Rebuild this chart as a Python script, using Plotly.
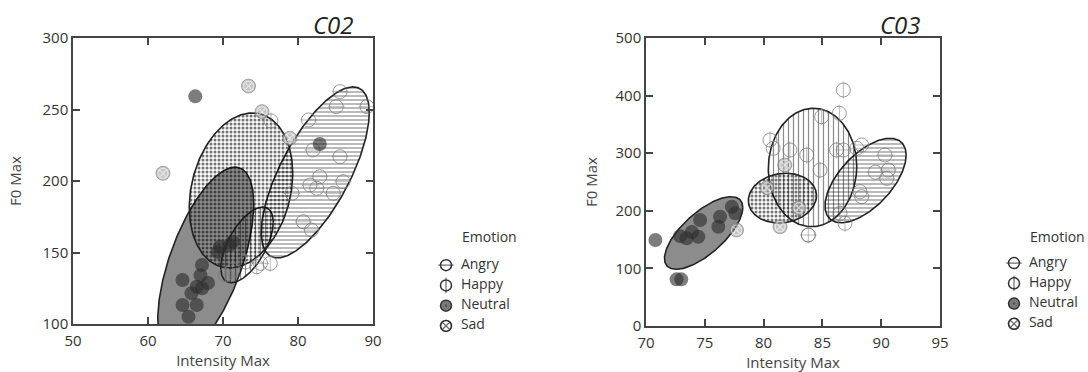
import numpy as np
import plotly.graph_objects as go

emotions = ["Angry", "Happy", "Neutral", "Sad"]

# ---------------- C02 ----------------
c02_angry_x = [85.6, 85.1, 89.2, 81.4, 82.0, 85.6, 82.9, 81.6, 82.5, 84.7, 86.0, 80.7, 81.8, 79.2, 75.0]
c02_angry_y = [262.5, 252, 252, 242.7, 221.7, 217, 203, 197.2, 194.9, 191.4, 199.5, 171.5, 165.7, 191.4, 142.4]
c02_happy_x = [71.3, 74.5, 76.3, 70.3, 73.0, 76.4]
c02_happy_y = [137.8, 140.1, 142.4, 134.3, 143.4, 242.0]
c02_neutral_x = [66.3, 82.9, 64.6, 67.2, 66.5, 67.2, 65.8, 64.6, 66.5, 65.4, 69.6, 70.9, 69.3, 71.3, 68.0, 67.0]
c02_neutral_y = [259.2, 225.9, 130.8, 141.3, 126.1, 125.0, 121.5, 113.3, 113.3, 105.1, 154.0, 155.2, 150.3, 157.6, 128.7, 134.0]
c02_sad_x = [62.0, 73.4, 75.2, 78.9]
c02_sad_y = [205.4, 266.4, 248.5, 229.9]

# ellipse parameters (order = emotions): centre, half-extent, correlation
c02_ell_cx = [82.3, 73.2, 67.7, 72.4]
c02_ell_cy = [206.0, 155.3, 143.4, 193.4]
c02_ell_sx = [7.2, 3.5, 6.4, 6.9]
c02_ell_sy = [59.8, 26.5, 66.3, 54.2]
c02_ell_rho = [0.70, 0.60, 0.61, 0.22]

# ---------------- C03 ----------------
c03_angry_x = [87.92, 88.34, 90.32, 90.6, 90.47, 88.34, 88.2, 83.8, 86.78, 89.5]
c03_angry_y = [308.5, 314.2, 296.9, 270.8, 256.4, 224.5, 233.2, 158, 305.6, 267]
c03_happy_x = [80.54, 80.82, 82.24, 83.67, 84.8, 86.2, 86.78, 86.44, 84.94, 86.5, 86.92, 83.8]
c03_happy_y = [322.9, 308.5, 305.6, 296.9, 270.8, 305.6, 409.7, 369.3, 363.4, 195.7, 178.3, 158]
c03_neutral_x = [70.8, 73.0, 72.6, 73.46, 74.45, 74.6, 76.3, 76.15, 77.3, 77.6, 72.9, 73.9]
c03_neutral_y = [149.3, 81, 81, 152.3, 155, 184, 189.8, 172.4, 207.1, 195.7, 156, 163]
c03_sad_x = [81.8, 81.4, 77.7, 80.3, 83.0]
c03_sad_y = [279.5, 172.4, 166.7, 240, 205]

c03_ell_cx = [88.67, 84.16, 74.9, 81.6]
c03_ell_cy = [252.6, 275.2, 161.5, 222.0]
c03_ell_sx = [3.45, 3.76, 3.33, 2.9]
c03_ell_sy = [73.3, 102.8, 63.0, 43.2]
c03_ell_rho = [0.60, 0.02, 0.70, 0.10]

c02_ticks_x = [50, 60, 70, 80, 90]
c02_ticks_y = [100, 150, 200, 250, 300]
c03_ticks_x = [70, 75, 80, 85, 90, 95]
c03_ticks_y = [0, 100, 200, 300, 400, 500]

FONT = "Open Sans"
INK = "#222222"

ell_style = {
    "Angry": dict(fillpattern=dict(shape="-", size=4, solidity=0.3, fgcolor="#000000", fgopacity=0.45,
                                   bgcolor="rgba(0,0,0,0)"), fillcolor="rgba(0,0,0,0)"),
    "Happy": dict(fillpattern=dict(shape="|", size=5, solidity=0.25, fgcolor="#000000", fgopacity=0.45,
                                   bgcolor="rgba(0,0,0,0)"), fillcolor="rgba(0,0,0,0)"),
    "Neutral": dict(fillcolor="rgba(0,0,0,0.45)"),
    "Sad": dict(fillpattern=dict(shape=".", size=4, solidity=0.45, fgcolor="#000000", fgopacity=0.55,
                                 bgcolor="rgba(0,0,0,0)"), fillcolor="rgba(0,0,0,0)"),
}


def ellipse(cx, cy, sx, sy, rho):
    t = np.linspace(0, 2 * np.pi, 241)
    x = cx + sx * np.cos(t)
    y = cy + sy * (rho * np.cos(t) + np.sqrt(1 - rho ** 2) * np.sin(t))
    return x, y


fig = go.Figure()


def add_panel(xa, ya, pts, ell):
    cxs, cys, sxs, sys_, rhos = ell
    draw_order = ["Neutral", "Angry", "Happy", "Sad"]
    for emo in draw_order:
        i = emotions.index(emo)
        ex, ey = ellipse(cxs[i], cys[i], sxs[i], sys_[i], rhos[i])
        fig.add_trace(go.Scatter(x=ex, y=ey, mode="lines", fill="toself",
                                 line=dict(color=INK, width=1.6), xaxis=xa, yaxis=ya,
                                 showlegend=False, hoverinfo="skip", **ell_style[emo]))
    ax, ay = pts["Angry"]
    hx, hy = pts["Happy"]
    nx, ny = pts["Neutral"]
    sx_, sy_ = pts["Sad"]
    # Sad markers
    fig.add_trace(go.Scatter(x=sx_, y=sy_, mode="markers", xaxis=xa, yaxis=ya, showlegend=False,
                             marker=dict(symbol="circle", size=14, color="rgba(150,150,150,0.55)",
                                         line=dict(color="rgba(120,120,120,0.6)", width=1))))
    fig.add_trace(go.Scatter(x=sx_, y=sy_, mode="markers", xaxis=xa, yaxis=ya, showlegend=False,
                             marker=dict(symbol="circle-x-open", size=10, color="rgba(255,255,255,0.55)",
                                         line=dict(color="rgba(255,255,255,0.55)", width=1.2))))
    # Angry markers
    fig.add_trace(go.Scatter(x=ax, y=ay, mode="markers", xaxis=xa, yaxis=ya, showlegend=False,
                             marker=dict(symbol="circle-open", size=14, color="rgba(120,120,120,0.75)",
                                         line=dict(width=1))))
    fig.add_trace(go.Scatter(x=ax, y=ay, mode="markers", xaxis=xa, yaxis=ya, showlegend=False,
                             marker=dict(symbol="line-ew-open", size=12, color="rgba(140,140,140,0.6)",
                                         line=dict(width=1))))
    # Happy markers
    fig.add_trace(go.Scatter(x=hx, y=hy, mode="markers", xaxis=xa, yaxis=ya, showlegend=False,
                             marker=dict(symbol="circle-open", size=14, color="rgba(120,120,120,0.75)",
                                         line=dict(width=1))))
    fig.add_trace(go.Scatter(x=hx, y=hy, mode="markers", xaxis=xa, yaxis=ya, showlegend=False,
                             marker=dict(symbol="line-ns-open", size=12, color="rgba(140,140,140,0.6)",
                                         line=dict(width=1))))
    # Neutral markers
    fig.add_trace(go.Scatter(x=nx, y=ny, mode="markers", xaxis=xa, yaxis=ya, showlegend=False,
                             marker=dict(symbol="circle", size=14, color="rgba(45,45,45,0.62)",
                                         line=dict(width=0))))


add_panel("x", "y",
          {"Angry": (c02_angry_x, c02_angry_y), "Happy": (c02_happy_x, c02_happy_y),
           "Neutral": (c02_neutral_x, c02_neutral_y), "Sad": (c02_sad_x, c02_sad_y)},
          (c02_ell_cx, c02_ell_cy, c02_ell_sx, c02_ell_sy, c02_ell_rho))
add_panel("x2", "y2",
          {"Angry": (c03_angry_x, c03_angry_y), "Happy": (c03_happy_x, c03_happy_y),
           "Neutral": (c03_neutral_x, c03_neutral_y), "Sad": (c03_sad_x, c03_sad_y)},
          (c03_ell_cx, c03_ell_cy, c03_ell_sx, c03_ell_sy, c03_ell_rho))


# ---------------- legends (on invisible axes) ----------------
def add_legend(xa, ya):
    zeros = [0] * len(emotions)
    fig.add_trace(go.Scatter(x=zeros, y=emotions, mode="markers+text", xaxis=xa, yaxis=ya,
                             showlegend=False, text=["\u2002" + e for e in emotions],
                             textposition="middle right",
                             textfont=dict(family=FONT, size=14, color="#333333"),
                             marker=dict(symbol="circle", size=11,
                                         color=["white", "white", "#7a7a7a", "white"],
                                         line=dict(color="#333333", width=1.5))))
    over_sym = ["line-ew-open", "line-ns-open", "circle-open", "circle-x-open"]
    over_size = [11, 11, 1, 11]
    fig.add_trace(go.Scatter(x=zeros, y=emotions, mode="markers", xaxis=xa, yaxis=ya,
                             showlegend=False,
                             marker=dict(symbol=over_sym, size=over_size, color="#333333",
                                         line=dict(color="#333333", width=1.3))))


add_legend("x3", "y3")
add_legend("x4", "y4")

W, H = 1088, 372


def px_x(a, b):
    return [a / W, b / W]


def px_y(top, bottom):
    return [(H - bottom) / H, (H - top) / H]


axis_common = dict(showline=True, linecolor="#444444", linewidth=1.5, mirror="ticks",
                   ticks="inside", ticklen=7, tickwidth=1.5, tickcolor="#444444",
                   showgrid=False, zeroline=False, automargin=False,
                   tickfont=dict(family=FONT, size=15, color="#333333"))
title_font = dict(family=FONT, size=15, color="#444444")

fig.update_layout(
    template="none",
    width=W, height=H, margin=dict(l=0, r=0, t=0, b=0, autoexpand=False),
    paper_bgcolor="white", plot_bgcolor="white",
    xaxis=dict(domain=px_x(73, 373), range=[50, 90], tickvals=c02_ticks_x, anchor="y",
               ticklabelstandoff=2,
               title=dict(text="Intensity Max", font=title_font, standoff=4), **axis_common),
    yaxis=dict(domain=px_y(38, 324), range=[100, 300], tickvals=c02_ticks_y, anchor="x",
               title=dict(text="F0 Max", font=title_font, standoff=17), **axis_common),
    xaxis2=dict(domain=px_x(646, 940), range=[70, 95], tickvals=c03_ticks_x, anchor="y2",
                ticklabelstandoff=2,
                title=dict(text="Intensity Max", font=title_font, standoff=4), **axis_common),
    yaxis2=dict(domain=px_y(38, 326), range=[0, 500], tickvals=c03_ticks_y, anchor="x2",
                title=dict(text="F0 Max", font=title_font, standoff=14), **axis_common),
    xaxis3=dict(domain=px_x(426, 546), range=[-1, 5], visible=False, anchor="y3", automargin=False),
    yaxis3=dict(domain=px_y(255, 336), type="category", categoryarray=emotions,
                range=[3.5, -0.5], visible=False, anchor="x3", automargin=False),
    xaxis4=dict(domain=px_x(994, 1088), range=[-1, 3.7], visible=False, anchor="y4", automargin=False),
    yaxis4=dict(domain=px_y(253, 334), type="category", categoryarray=emotions,
                range=[3.5, -0.5], visible=False, anchor="x4", automargin=False),
    annotations=[
        dict(text="<i>C02</i>", x=356 / W, y=(H - 24) / H, xref="paper", yref="paper",
             xanchor="right", yanchor="middle", showarrow=False,
             font=dict(family=FONT, size=24, color="#222222")),
        dict(text="<i>C03</i>", x=923 / W, y=(H - 24) / H, xref="paper", yref="paper",
             xanchor="right", yanchor="middle", showarrow=False,
             font=dict(family=FONT, size=24, color="#222222")),
        dict(text="Emotion", x=489 / W, y=(H - 236) / H, xref="paper", yref="paper",
             xanchor="center", yanchor="middle", showarrow=False,
             font=dict(family=FONT, size=14, color="#333333")),
        dict(text="Emotion", x=1057 / W, y=(H - 236) / H, xref="paper", yref="paper",
             xanchor="center", yanchor="middle", showarrow=False,
             font=dict(family=FONT, size=14, color="#333333")),
    ],
)

fig.write_html("out.html", config={"displayModeBar": False},
               post_script="document.body.style.margin='0px';document.body.style.overflow='hidden';")
